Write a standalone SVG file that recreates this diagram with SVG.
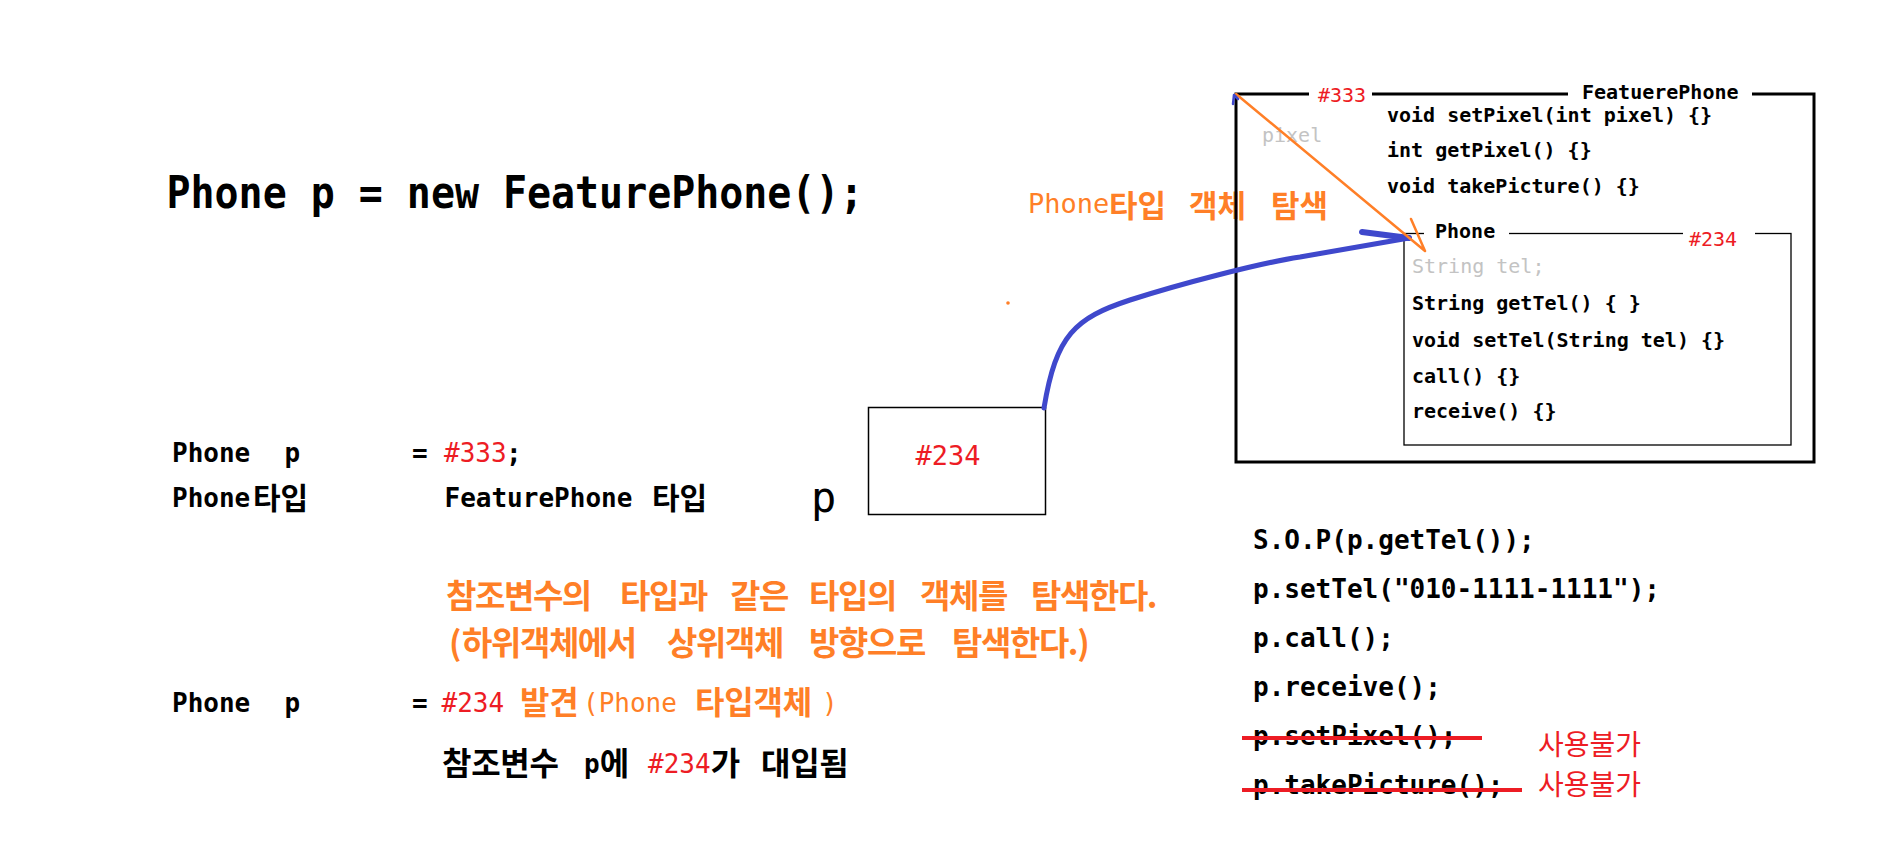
<svg xmlns="http://www.w3.org/2000/svg" width="1898" height="868" viewBox="0 0 1898 868">
<style>
.m{font-family:"DejaVu Sans Mono","Noto Sans CJK KR",monospace}
.k{font-family:"Noto Sans CJK KR","Noto Sans CJK SC",sans-serif}
.b{font-weight:bold}
.n{font-weight:normal}
.red{fill:#ed1c24}
.or{fill:#ff7f27}
.gr{fill:#c3c3c3}
.box{fill:none;stroke:#000}
.wb{fill:#fff}
.c20{font-size:20px}
.c26{font-size:26px}
</style>
<rect width="1898" height="868" fill="#fff"/>

<g id="header">
<text class="m b" x="166.5" y="208" font-size="44" textLength="697" lengthAdjust="spacingAndGlyphs">Phone p = new FeaturePhone();</text>
</g>

<g id="assign-333">
<text class="m b c26" y="462"><tspan x="172">Phone</tspan><tspan x="284.5">p</tspan><tspan x="412">=</tspan></text>
<text class="m red c26" x="444" y="462">#333</text>
<text class="m b c26" x="506" y="462">;</text>
<text class="m b c26" x="172" y="507">Phone<tspan class="k" font-size="30" x="253" y="509">타입</tspan></text>
<text class="m b c26" x="444.5" y="507">FeaturePhone<tspan class="k" font-size="30" x="652" y="509">타입</tspan></text>
</g>

<g id="search-note">
<text class="k b or" font-size="33" letter-spacing="-1.4" y="608"><tspan x="446">참조변수의</tspan><tspan x="620">타입과</tspan><tspan x="730">같은</tspan><tspan x="809">타입의</tspan><tspan x="920">객체를</tspan><tspan x="1031">탐색한다.</tspan></text>
<text class="k b or" font-size="33" letter-spacing="-1.4" y="655"><tspan x="449">(</tspan><tspan x="462">하위객체에서</tspan><tspan x="667">상위객체</tspan><tspan x="809">방향으로</tspan><tspan x="952">탐색한다.)</tspan></text>
</g>

<g id="assign-234">
<text class="m b c26" y="712"><tspan x="172">Phone</tspan><tspan x="284.5">p</tspan><tspan x="412">=</tspan></text>
<text class="m red c26" x="441.5" y="712">#234</text>
<text class="k b or" font-size="32" letter-spacing="-0.2" y="714"><tspan x="520">발견</tspan><tspan class="m n" font-size="26" letter-spacing="0" x="583" y="712">(Phone</tspan><tspan x="695" y="714">타입객체</tspan><tspan class="m n" font-size="26" letter-spacing="0" x="822" y="712">)</tspan></text>
<text class="m b c26" y="773"><tspan class="k" font-size="32" letter-spacing="-0.3" x="442" y="775">참조변수</tspan><tspan x="584" y="773">p</tspan><tspan class="k" font-size="32" y="775">에</tspan><tspan class="red n" x="648" y="773">#234</tspan><tspan class="k" font-size="32" y="775">가</tspan><tspan class="k" font-size="32" letter-spacing="-0.3" x="761" y="775">대입됨</tspan></text>
</g>

<g id="var-p">
<text class="m" font-size="42" x="811" y="512">p</text>
<rect class="box" x="868.5" y="407.5" width="177" height="107" stroke-width="1.5"/>
<text class="m red" font-size="27" x="915.5" y="465">#234</text>
</g>

<g id="search-label">
<rect class="wb" x="1230" y="185" width="12" height="44"/>
<text class="or" y="213"><tspan class="m" font-size="27" x="1028">Phone</tspan><tspan class="k b" font-size="31" x="1109" y="217">타입</tspan><tspan class="k b" font-size="31" x="1189" y="217">객체</tspan><tspan class="k b" font-size="31" x="1271" y="217">탐색</tspan></text>
</g>

<g id="obj-featurephone">
<rect class="box" x="1236" y="94" width="578" height="368" stroke-width="3"/>
<rect class="wb" x="1309" y="90" width="63" height="8"/>
<rect class="wb" x="1568" y="90" width="184" height="8"/>
<text class="m red c20" x="1318" y="102">#333</text>
<text class="m b c20" x="1582" y="99">FeatuerePhone</text>
<text class="m gr c20" x="1262" y="142">pixel</text>
<text class="m b c20" x="1387" y="122">void setPixel(int pixel) {}</text>
<text class="m b c20" x="1387" y="157">int getPixel() {}</text>
<text class="m b c20" x="1387" y="193">void takePicture() {}</text>
</g>

<g id="obj-phone">
<rect class="box" x="1404" y="233.5" width="387" height="211.5" stroke-width="1.3"/>
<rect class="wb" x="1424" y="230" width="85" height="7"/>
<rect class="wb" x="1683" y="230" width="72" height="7"/>
<text class="m b c20" x="1435" y="238">Phone</text>
<text class="m red c20" x="1689" y="246">#234</text>
<text class="m gr c20" x="1412" y="273">String tel;</text>
<text class="m b c20" x="1412" y="310">String getTel() { }</text>
<text class="m b c20" x="1412" y="347">void setTel(String tel) {}</text>
<text class="m b c20" x="1412" y="383">call() {}</text>
<text class="m b c20" x="1412" y="418">receive() {}</text>
</g>

<g id="usage">
<text class="m b c26" x="1253" y="549">S.O.P(p.getTel());</text>
<text class="m b c26" x="1253" y="598">p.setTel("010-1111-1111");</text>
<text class="m b c26" x="1253" y="647">p.call();</text>
<text class="m b c26" x="1253" y="696">p.receive();</text>
<text class="m b c26" x="1253" y="745">p.setPixel();</text>
<text class="m b c26" x="1253" y="794">p.takePicture();</text>
<line x1="1242" y1="738" x2="1482" y2="738" stroke="#ed1c24" stroke-width="4"/>
<line x1="1242" y1="790" x2="1522" y2="790" stroke="#ed1c24" stroke-width="4"/>
<text class="k red" font-size="28" x="1538" y="755">사용불가</text>
<text class="k red" font-size="28" x="1538" y="795">사용불가</text>
</g>

<g id="connectors" fill="none" stroke-linecap="round" stroke-linejoin="round">
<path d="M1044,408 C1056,335 1075,318 1130,300 C1180,284 1260,263 1300,257 L1409,238" stroke="#3f48cc" stroke-width="5"/>
<path d="M1362,232 L1409,238" stroke="#3f48cc" stroke-width="6"/>
<path d="M1236,94 L1425,251 M1411,219 L1425,251" stroke="#ff7f27" stroke-width="2.5"/>
<path d="M1233,104 L1234,95 L1238,99" stroke="#3f48cc" stroke-width="2.5"/>
</g>
<circle cx="1008" cy="303" r="1.8" fill="#ff7f27"/>
</svg>
